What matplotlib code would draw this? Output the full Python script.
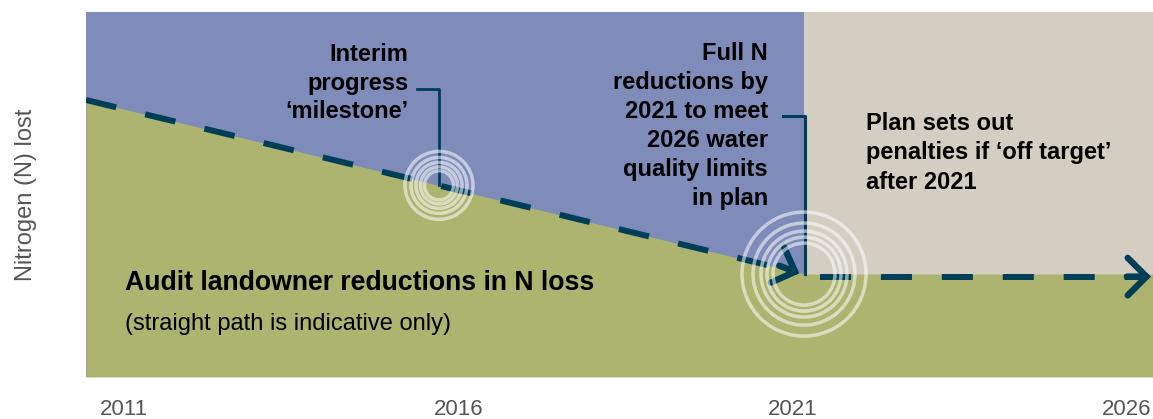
import numpy as np
import matplotlib.pyplot as plt

plt.rcParams['font.family'] = ['Liberation Sans', 'DejaVu Sans']

# x axis in years, y axis is an index of nitrogen lost (0-100)
year_ticks = [2011, 2016, 2021, 2026]
x_range = [2010.43, 2026.39]
y_range = [0, 100]

# Path of N loss: straight reduction to 2021 target, then flat to 2026
path_year = [2010.43, 2021.17, 2026.39]
path_n = [75.9, 28.2, 28.2]
flat_year = [2021.41, 2026.3]
flat_n = [27.5, 27.5]

milestone_year = 2015.71
milestone_n = 52.5
target_year = 2021.17
target_n = 28.2

milestone_rings = [34, 28, 23, 18.5, 14.5]   # px radii
target_rings = [62, 51, 43, 37, 31]

blue = '#7f8cb9'
green = '#adb470'
beige = '#d3cdc2'
teal = '#003e58'
grey = '#555555'

fig = plt.figure(figsize=(11.53, 4.19), dpi=100)
ax = fig.add_axes([86 / 1153, 42 / 419, 1067 / 1153, 365 / 419])
ax.set_xlim(x_range)
ax.set_ylim(y_range)

ax.axvspan(x_range[0], target_year, color=blue, lw=0, zorder=0)
ax.axvspan(target_year, x_range[1], color=beige, lw=0, zorder=0)
ax.fill_between(path_year, path_n, 0, color=green, lw=0, zorder=1)

# dashed path with arrow heads
ax.plot([path_year[0], 2020.95], [path_n[0], 29.2], color=teal, lw=4.3,
        dashes=(5.2, 5.0), solid_capstyle='butt', zorder=3)
ax.plot(flat_year, flat_n, color=teal, lw=4.3, dashes=(5.2, 5.0), zorder=3, clip_on=False)

head = dict(arrowstyle='->,head_length=0.45,head_width=0.45', lw=4.6, color=teal,
            mutation_scale=30, shrinkA=0, shrinkB=0, joinstyle='miter')
ax.annotate('', xy=(2021.1, 28.4), xytext=(2020.8, 30.5), arrowprops=head, zorder=4)
ax.annotate('', xy=(2026.36, 27.5), xytext=(2026.0, 27.5), arrowprops=head,
            zorder=4, annotation_clip=False)

# leader lines
ax.plot([2015.38, 2015.71, 2015.71], [78.9, 78.9, milestone_n], color=teal, lw=2.0, zorder=3)
ax.plot([2020.86, 2021.18, 2021.18], [71.5, 71.5, target_n], color=teal, lw=2.2, zorder=3)

# concentric rings
for r in milestone_rings:
    ax.scatter([milestone_year], [milestone_n], s=(2 * r * 0.72) ** 2, facecolors='none',
               edgecolors='white', linewidths=2.5, alpha=0.55, zorder=5)
for r in target_rings:
    ax.scatter([target_year], [target_n], s=(2 * r * 0.72) ** 2, facecolors='none',
               edgecolors='white', linewidths=2.5, alpha=0.55, zorder=5)

# labels
ax.text(2015.25, 80.5, "Interim\nprogress\n\u2018milestone\u2019", ha='right', va='center',
        fontsize=17, fontweight='bold', linespacing=1.3, zorder=6)
ax.text(2020.63, 68.8, "Full N\nreductions by\n2021 to meet\n2026 water\nquality limits\nin plan",
        ha='right', va='center', fontsize=17, fontweight='bold', linespacing=1.33, zorder=6)
ax.text(2022.09, 61.4, "Plan sets out\npenalties if \u2018off target\u2019\nafter 2021", ha='left',
        va='center', fontsize=17, fontweight='bold', linespacing=1.34, zorder=6)
ax.text(2011.02, 23.8, "Audit landowner reductions in N loss", ha='left', va='baseline',
        fontsize=19.2, fontweight='bold', zorder=6)
ax.text(2011.02, 12.9, "(straight path is indicative only)", ha='left', va='baseline',
        fontsize=17, zorder=6)

ax.set_xticks(year_ticks)
ax.set_xticklabels([str(y) for y in year_ticks])
ax.tick_params(axis='x', length=0, pad=16, labelsize=16, labelcolor=grey)
ax.set_yticks([])
ax.set_ylabel("Nitrogen (N) lost", fontsize=17, color=grey)
ax.yaxis.set_label_coords(-49 / 1067, 0.5)
for s in ax.spines.values():
    s.set_visible(False)

fig.savefig('out.png', dpi=100)
